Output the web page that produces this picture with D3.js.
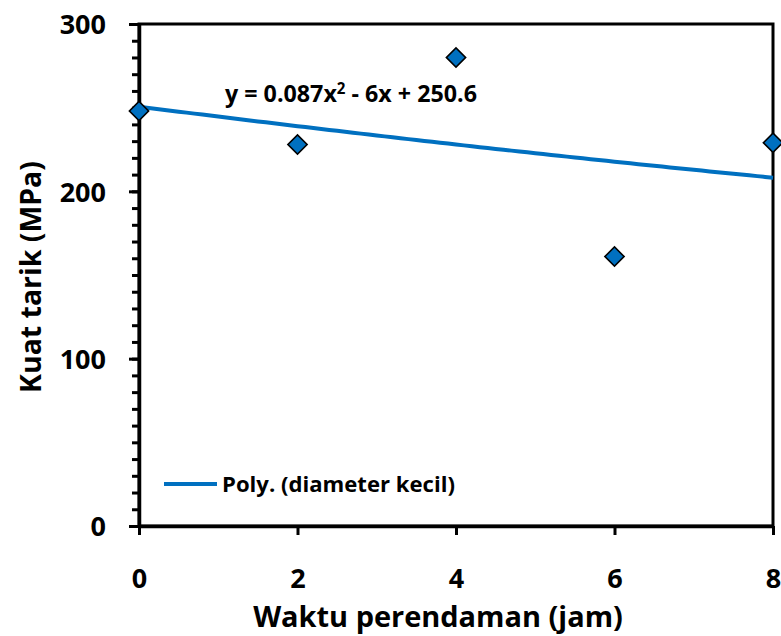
<!DOCTYPE html>
<html>
<head>
<meta charset="utf-8">
<script src="https://cdn.jsdelivr.net/npm/d3@7"></script>
<style>
  html, body { margin: 0; padding: 0; background: #fff; }
  svg text { font-family: "Open Sans", "DejaVu Sans", sans-serif; font-weight: 700; fill: #000; }
</style>
</head>
<body>
<svg id="chart" width="781" height="636"></svg>
<script>
// ---- data ----
const hours = [0, 2, 4, 6, 8];                 // Waktu perendaman (jam)
const strength = [248, 228, 280, 161, 229];    // Kuat tarik (MPa), diameter kecil
const trendCoef = [250.6, -6, 0.087];          // y = c0 + c1 x + c2 x^2 (from chart label)
const xTicks = [0, 2, 4, 6, 8];
const yTicks = [0, 100, 200, 300];
const yMinorTicks = d3.range(0, 301, 10);
const xTitle = "Waktu perendaman (jam)";
const yTitle = "Kuat tarik (MPa)";
const legendLabel = "Poly. (diameter kecil)";

// ---- layout ----
const L = 139, R = 773, T = 24, B = 526;
const blue = "#0070C0";
const svg = d3.select("#chart");

const x = d3.scaleLinear().domain([0, 8]).range([L, R]);
const y = d3.scaleLinear().domain([0, 300]).range([B, T]);

function fit(sel, target) {
  const base = parseFloat(sel.attr("font-size"));
  const w = sel.node().getComputedTextLength();
  sel.attr("font-size", base * target / w);
}

// plot border (top/right)
svg.append("rect").attr("x", L).attr("y", T).attr("width", R - L).attr("height", B - T)
  .attr("fill", "none").attr("stroke", "#000").attr("stroke-width", 3);

// trendline
const tx = d3.range(0, 8.0001, 0.1);
const line = d3.line().x(d => x(d)).y(d => y(trendCoef[0] + trendCoef[1] * d + trendCoef[2] * d * d));
svg.append("path").datum(tx).attr("d", line).attr("fill", "none")
  .attr("stroke", blue).attr("stroke-width", 4);

// y axis minor ticks
const yMinor = svg.append("g").attr("transform", `translate(${L},0)`)
  .call(d3.axisLeft(y).tickValues(yMinorTicks).tickSize(7).tickFormat(""));
yMinor.select(".domain").remove();
yMinor.selectAll("line").attr("stroke", "#000").attr("stroke-width", 3);

// y axis major
const yAx = svg.append("g").attr("transform", `translate(${L},0)`)
  .call(d3.axisLeft(y).tickValues(yTicks).tickSize(10).tickSizeOuter(0).tickPadding(10));
yAx.select(".domain").attr("stroke", "#000").attr("stroke-width", 3.5);
yAx.selectAll("line").attr("stroke", "#000").attr("stroke-width", 3);
yAx.selectAll("text").attr("font-size", 27).attr("dy", "0.36em").attr("x", -33);

// x axis
const xAx = svg.append("g").attr("transform", `translate(0,${B})`)
  .call(d3.axisBottom(x).tickValues(xTicks).tickSize(9).tickSizeOuter(0).tickPadding(12));
xAx.select(".domain").attr("stroke", "#000").attr("stroke-width", 3.5);
xAx.selectAll("line").attr("stroke", "#000").attr("stroke-width", 3);
xAx.selectAll("text").attr("font-size", 27).attr("dy", 0).attr("y", 62);

// markers
svg.append("g").selectAll("path").data(hours).join("path")
  .attr("transform", (d, i) => `translate(${x(d)},${y(strength[i])}) rotate(45)`)
  .attr("d", d3.symbol().type(d3.symbolSquare).size(185)())
  .attr("fill", blue).attr("stroke", "#000").attr("stroke-width", 1.6);

// equation label
const eq = svg.append("text").attr("x", 225).attr("y", 102).attr("font-size", 20);
eq.append("tspan").text("y = 0.087x");
eq.append("tspan").text("2").attr("font-size", "0.65em").attr("dy", "-0.55em");
eq.append("tspan").text(" - 6x + 250.6").attr("dy", "0.36em");
fit(eq, 252);

// legend
svg.append("line").attr("x1", 164).attr("x2", 217).attr("y1", 484).attr("y2", 484)
  .attr("stroke", blue).attr("stroke-width", 4);
const lg = svg.append("text").attr("x", 222).attr("y", 492).attr("font-size", 20).text(legendLabel);
fit(lg, 233);

// axis titles
const xt = svg.append("text").attr("x", 438).attr("y", 627).attr("text-anchor", "middle")
  .attr("font-size", 24).text(xTitle);
fit(xt, 370);
const yt = svg.append("text").attr("transform", "translate(41,277) rotate(-90)")
  .attr("text-anchor", "middle").attr("font-size", 24).text(yTitle);
fit(yt, 232);
</script>
</body>
</html>
